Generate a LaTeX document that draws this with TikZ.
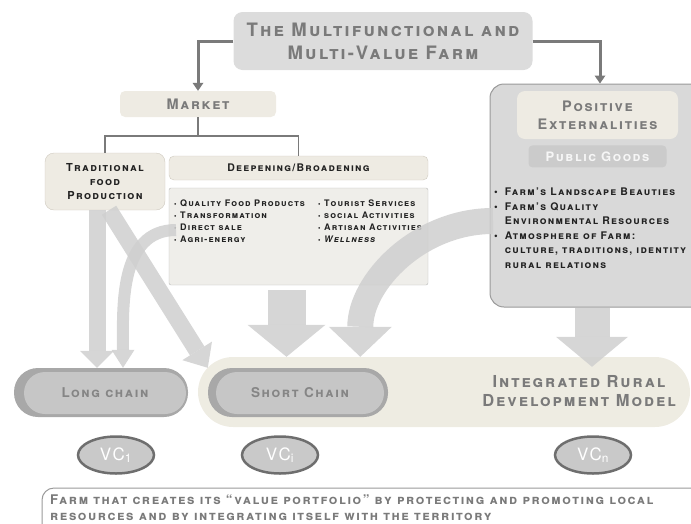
\documentclass[tikz,border=0pt]{standalone}
\usepackage{fontspec}
\setmainfont{TeX Gyre Heros}[LetterSpace=12]
\usepackage{xcolor}
\usepackage{tikz}
\usetikzlibrary{arrows.meta, positioning, shapes.geometric, calc}

\definecolor{titlegray}{HTML}{DCDCDC}
\definecolor{inkgray}{HTML}{7A7A7A}
\definecolor{darkink}{HTML}{222222}
\definecolor{beige}{HTML}{EEEBE3}
\definecolor{beigeedge}{HTML}{CFCAC0}
\definecolor{panel}{HTML}{EFEEEA}
\definecolor{boxgray}{HTML}{D9D9D9}
\definecolor{edgegray}{HTML}{9A9A9A}
\definecolor{goodsgray}{HTML}{CBCBCB}
\definecolor{arrowgray}{HTML}{CFCFCF}
\definecolor{chainfill}{HTML}{C6C6C6}
\definecolor{chainshade}{HTML}{A8A8A8}
\definecolor{chaintext}{HTML}{858585}
\definecolor{bandbeige}{HTML}{EEECE2}
\definecolor{vcfill}{HTML}{C9C9C9}
\definecolor{vcedge}{HTML}{6E6E6E}

\newcommand\capsize[2]{\bfseries\scshape\fontsize{#1}{#2}\selectfont}
\newcommand\punto{{\scriptsize\textbullet}\ }

\begin{document}
\begin{tikzpicture}[x=1pt, y=-1pt,
  every node/.style={inner sep=0pt},
  titulo/.style={fill=titlegray, rounded corners=9pt, text=inkgray, align=center,
    font=\capsize{18.5}{23}, minimum width=299pt, minimum height=58pt},
  crema/.style={fill=beige, draw=beigeedge, rounded corners=6pt, align=center},
  enlace/.style={draw=inkgray, line width=3pt, -{Triangle[width=11pt, length=8pt, line width=0pt]}},
  rama/.style={draw=inkgray, line width=1.5pt},
  sombra/.style={fill=chainshade, rounded corners=24pt},
  cadena/.style={fill=chainfill, rounded corners=21pt, text=chaintext, font=\capsize{13.5}{16}},
  vc/.style={ellipse, draw=vcedge, line width=2.5pt, fill=vcfill, text=white,
    minimum width=76pt, minimum height=37pt, font=\fontsize{17}{19}\selectfont},
  bloque/.style n args={3}{draw=arrowgray, opacity=.85, line width=#1,
    -{Triangle[width=#2, length=#3, line width=0pt]}}
]
\useasboundingbox (0,0) rectangle (691,523);

% Modelo integrado
\node[fill=bandbeige, rounded corners=35pt, minimum width=492pt, minimum height=70pt] (band) at (444,392) {};
\node[text=inkgray, align=center, font=\capsize{16.5}{19}] (irdm) at (579,391) {Integrated Rural\\Development Model};

% Cadenas
\node[sombra, minimum width=174pt, minimum height=49pt] (longbg) at (101,392.5) {};
\node[cadena, minimum width=162pt, minimum height=42pt] (long) at (105,393) {Long chain};
\node[sombra, minimum width=180pt, minimum height=49pt] (shortbg) at (298,392.5) {};
\node[cadena, minimum width=168pt, minimum height=42pt] (short) at (300,393) {Short Chain};

% Valor de cada cadena
\node[vc] (vc1) at (116,455) {VC\textsubscript{1}};
\node[vc] (vci) at (280,455) {VC\textsubscript{i}};
\node[vc] (vcn) at (593,455) {VC\textsubscript{n}};

% Titulo y mercado
\node[titulo] (farm) at (383,41) {The Multifunctional and\\Multi-Value Farm};
\node[crema, draw=none, rounded corners=5pt, minimum width=156pt, minimum height=26pt,
  text=inkgray, font=\capsize{14.5}{16}] (market) at (198,104) {Market};
\node[crema, rounded corners=9pt, minimum width=120pt, minimum height=57pt,
  text=darkink, font=\capsize{11}{14}] (trad) at (105,181.5) {Traditional\\food\\Production};
\node[crema, rounded corners=5pt, minimum width=259pt, minimum height=24pt,
  text=darkink, font=\capsize{10.5}{13}] (deep) at (298.5,168) {Deepening/Broadening};

% Actividades
\node[fill=panel, draw=edgegray!70, rounded corners=2pt, minimum width=259pt, minimum height=97pt] (acts) at (298.5,236.5) {};
\node[anchor=north west, align=left, text=darkink, font=\capsize{9}{12}] (actsl) at (174,200)
  {\punto Quality Food Products\\ \punto Transformation\\ \punto Direct sale\\ \punto Agri-energy};
\node[anchor=north west, align=left, text=darkink, font=\capsize{9}{12}] (actsr) at (318,200)
  {\punto Tourist Services\\ \punto social Activities\\ \punto Artisan Activities\\ \punto {\itshape Wellness}};

% Externalidades
\node[fill=boxgray, draw=edgegray, line width=1pt, rounded corners=14pt, minimum width=220pt, minimum height=223pt] (pos) at (600,195.5) {};
\node[crema, draw=none, rounded corners=8pt, minimum width=161pt, minimum height=48pt,
  text=inkgray, font=\capsize{14.5}{18}] (ext) at (597.5,115) {Positive\\Externalities};
\node[below=6pt of ext, fill=goodsgray, rounded corners=4pt, minimum width=138pt, minimum height=22pt,
  text=white!93!gray, font=\capsize{13}{15}] (goods) {Public Goods};
\node[anchor=north west, text=darkink, font=\capsize{10.5}{14.6}] (extlist) at (494,185)
  {\begin{tabular}{@{}l@{\hspace{7pt}}l@{}}
    \textbullet & Farm's Landscape Beauties\\
    \textbullet & Farm's Quality\\
                & Environmental Resources\\
    \textbullet & Atmosphere of Farm:\\
                & culture, traditions, identity\\
                & rural relations
  \end{tabular}};

% Pie
\node[draw=edgegray, line width=1pt, fill=white, rounded corners=12pt, minimum width=680pt, minimum height=80pt] (foot) at (382,528) {};
\node[anchor=north west, align=left, text=inkgray, font=\capsize{13.3}{15.5}] (foottxt) at (50,495)
  {Farm that creates its “value portfolio” by protecting and promoting local\\resources and by integrating itself with the territory};

% Conectores
\draw[enlace] (farm.west) -| (market.north);
\draw[enlace] (farm.east) -| (pos.north);
\coordinate (fork) at (198,136);
\draw[rama] (market.south) -- (fork);
\draw[rama] (trad.north) |- (fork) -| (deep.north);

% Flechas grandes
\coordinate (sale) at (176,230);
\coordinate (quality) at (493,221);
\draw[bloque={17pt}{34pt}{17pt}] ([xshift=-8pt]trad.south) -- ([xshift=-8pt]trad.south |- longbg.north);
\draw[bloque={17pt}{35pt}{20pt}] ([xshift=4pt]trad.south) -- (shortbg.north west);
\draw[bloque={12pt}{23pt}{18pt}] (sale) to[out=180, in=90] ([xshift=22pt]longbg.north);
\draw[bloque={38pt}{78pt}{32pt}] ([shift={(-12pt,-5pt)}]acts.south) -- ([xshift=-12pt]acts.south |- band.north);
\draw[bloque={26pt}{63pt}{30pt}] (quality) to[out=180, in=90] ($(band.north west)!.33!(band.north east)$);
\draw[bloque={35pt}{72pt}{30pt}] ([xshift=-8pt]pos.south) -- ([shift={(-8pt,-10pt)}]pos.south |- band.north);
\end{tikzpicture}
\end{document}
